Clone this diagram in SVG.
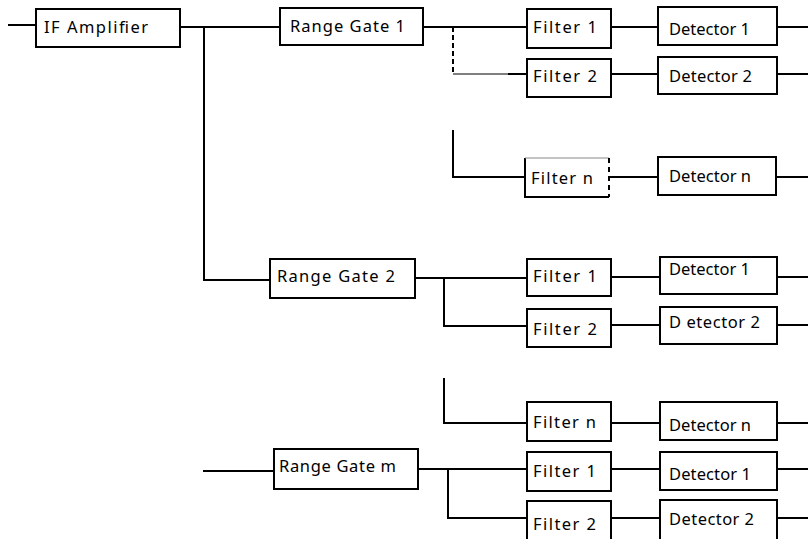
<svg xmlns="http://www.w3.org/2000/svg" width="808" height="539" viewBox="0 0 808 539">
<style>
.box{fill:#fff;stroke:#000;stroke-width:2}
.w{fill:none;stroke:#000;stroke-width:2}
.t{font-family:"Noto Sans","DejaVu Sans",sans-serif;font-size:16.5px;fill:#000}
</style>
<rect width="808" height="539" fill="#fff"/>
<g id="connectors">
<path class="w" d="M8 25H36"/>
<path class="w" d="M180 27H280"/>
<path class="w" d="M204 27V280H270"/>
<path class="w" d="M423 27H527"/>
<path class="w" d="M453 27V74" stroke-dasharray="5,3"/>
<path d="M453 74H508" stroke="#000" stroke-width="1" fill="none"/>
<path class="w" d="M508 74H527"/>
<path class="w" d="M611 27H658"/>
<path class="w" d="M777 27H808"/>
<path class="w" d="M611 74H658"/>
<path class="w" d="M777 74H808"/>
<path class="w" d="M453 130V177H525"/>
<path class="w" d="M609 177H658"/>
<path class="w" d="M776 177H808"/>
<path class="w" d="M415 278H527"/>
<path class="w" d="M444 278V326H527"/>
<path class="w" d="M611 277H660"/>
<path class="w" d="M777 277H808"/>
<path class="w" d="M611 325H660"/>
<path class="w" d="M777 325H808"/>
<path class="w" d="M444 378V423H527"/>
<path class="w" d="M611 423H660"/>
<path class="w" d="M777 423H808"/>
<path class="w" d="M203 471H274"/>
<path class="w" d="M418 469H527"/>
<path class="w" d="M448 469V518H527"/>
<path class="w" d="M611 469H660"/>
<path class="w" d="M777 469H808"/>
<path class="w" d="M611 518H660"/>
<path class="w" d="M777 518H808"/>
</g>
<g id="if-amplifier"><rect class="box" x="36" y="9" width="144" height="38"/><text class="t" x="44" y="33" textLength="104" lengthAdjust="spacing">IF  Amplifier</text></g>
<g id="range-gate-1"><rect class="box" x="280" y="8" width="143" height="37"/><text class="t" x="290" y="32" textLength="115" lengthAdjust="spacing">Range Gate 1</text></g>
<g id="rg1-filter-1"><rect class="box" x="527" y="9" width="84" height="39"/><text class="t" x="533" y="33" textLength="64" lengthAdjust="spacing">Filter  1</text></g>
<g id="rg1-detector-1"><rect class="box" x="658" y="7" width="119" height="38"/><text class="t" x="669" y="35" textLength="81" lengthAdjust="spacing">Detector 1</text></g>
<g id="rg1-filter-2"><rect class="box" x="527" y="59" width="84" height="38"/><text class="t" x="533" y="82" textLength="64" lengthAdjust="spacing">Filter 2</text></g>
<g id="rg1-detector-2"><rect class="box" x="658" y="57" width="119" height="37"/><text class="t" x="669" y="82" textLength="83" lengthAdjust="spacing">Detector 2</text></g>
<g id="rg1-filter-n"><path class="w" d="M525 158V197H609"/><path d="M525 158H609" stroke="#888" stroke-width="1" fill="none"/><path class="w" d="M609 158V197" stroke-dasharray="5,4"/><text class="t" x="531" y="184" textLength="62" lengthAdjust="spacing">Filter  n</text></g>
<g id="rg1-detector-n"><rect class="box" x="658" y="157" width="118" height="38"/><text class="t" x="669" y="182" textLength="82" lengthAdjust="spacing">Detector n</text></g>
<g id="range-gate-2"><rect class="box" x="270" y="259" width="145" height="39"/><text class="t" x="277" y="282" textLength="118" lengthAdjust="spacing">Range Gate 2</text></g>
<g id="rg2-filter-1"><rect class="box" x="527" y="259" width="84" height="37"/><text class="t" x="533" y="282" textLength="64" lengthAdjust="spacing">Filter 1</text></g>
<g id="rg2-detector-1"><rect class="box" x="660" y="257" width="117" height="37"/><text class="t" x="669" y="275" textLength="81" lengthAdjust="spacing">Detector 1</text></g>
<g id="rg2-filter-2"><rect class="box" x="527" y="309" width="84" height="38"/><text class="t" x="533" y="335" textLength="64" lengthAdjust="spacing">Filter  2</text></g>
<g id="rg2-detector-2"><rect class="box" x="660" y="307" width="117" height="37"/><text class="t" x="669" y="328" textLength="91" lengthAdjust="spacing">D etector 2</text></g>
<g id="rg2-filter-n"><rect class="box" x="527" y="402" width="84" height="39"/><text class="t" x="533" y="428" textLength="63" lengthAdjust="spacing">Filter n</text></g>
<g id="rg2-detector-n"><rect class="box" x="660" y="402" width="117" height="38"/><text class="t" x="669" y="431" textLength="82" lengthAdjust="spacing">Detector n</text></g>
<g id="range-gate-m"><rect class="box" x="274" y="449" width="144" height="40"/><text class="t" x="279" y="472" textLength="117" lengthAdjust="spacing">Range Gate m</text></g>
<g id="rgm-filter-1"><rect class="box" x="527" y="452" width="84" height="39"/><text class="t" x="533" y="477" textLength="63" lengthAdjust="spacing">Filter 1</text></g>
<g id="rgm-detector-1"><rect class="box" x="660" y="452" width="117" height="38"/><text class="t" x="669" y="480" textLength="82" lengthAdjust="spacing">Detector 1</text></g>
<g id="rgm-filter-2"><rect class="box" x="527" y="501" width="84" height="40"/><text class="t" x="533" y="530" textLength="63" lengthAdjust="spacing">Filter  2</text></g>
<g id="rgm-detector-2"><rect class="box" x="660" y="500" width="117" height="40"/><text class="t" x="669" y="525" textLength="85" lengthAdjust="spacing">Detector 2</text></g>
</svg>
